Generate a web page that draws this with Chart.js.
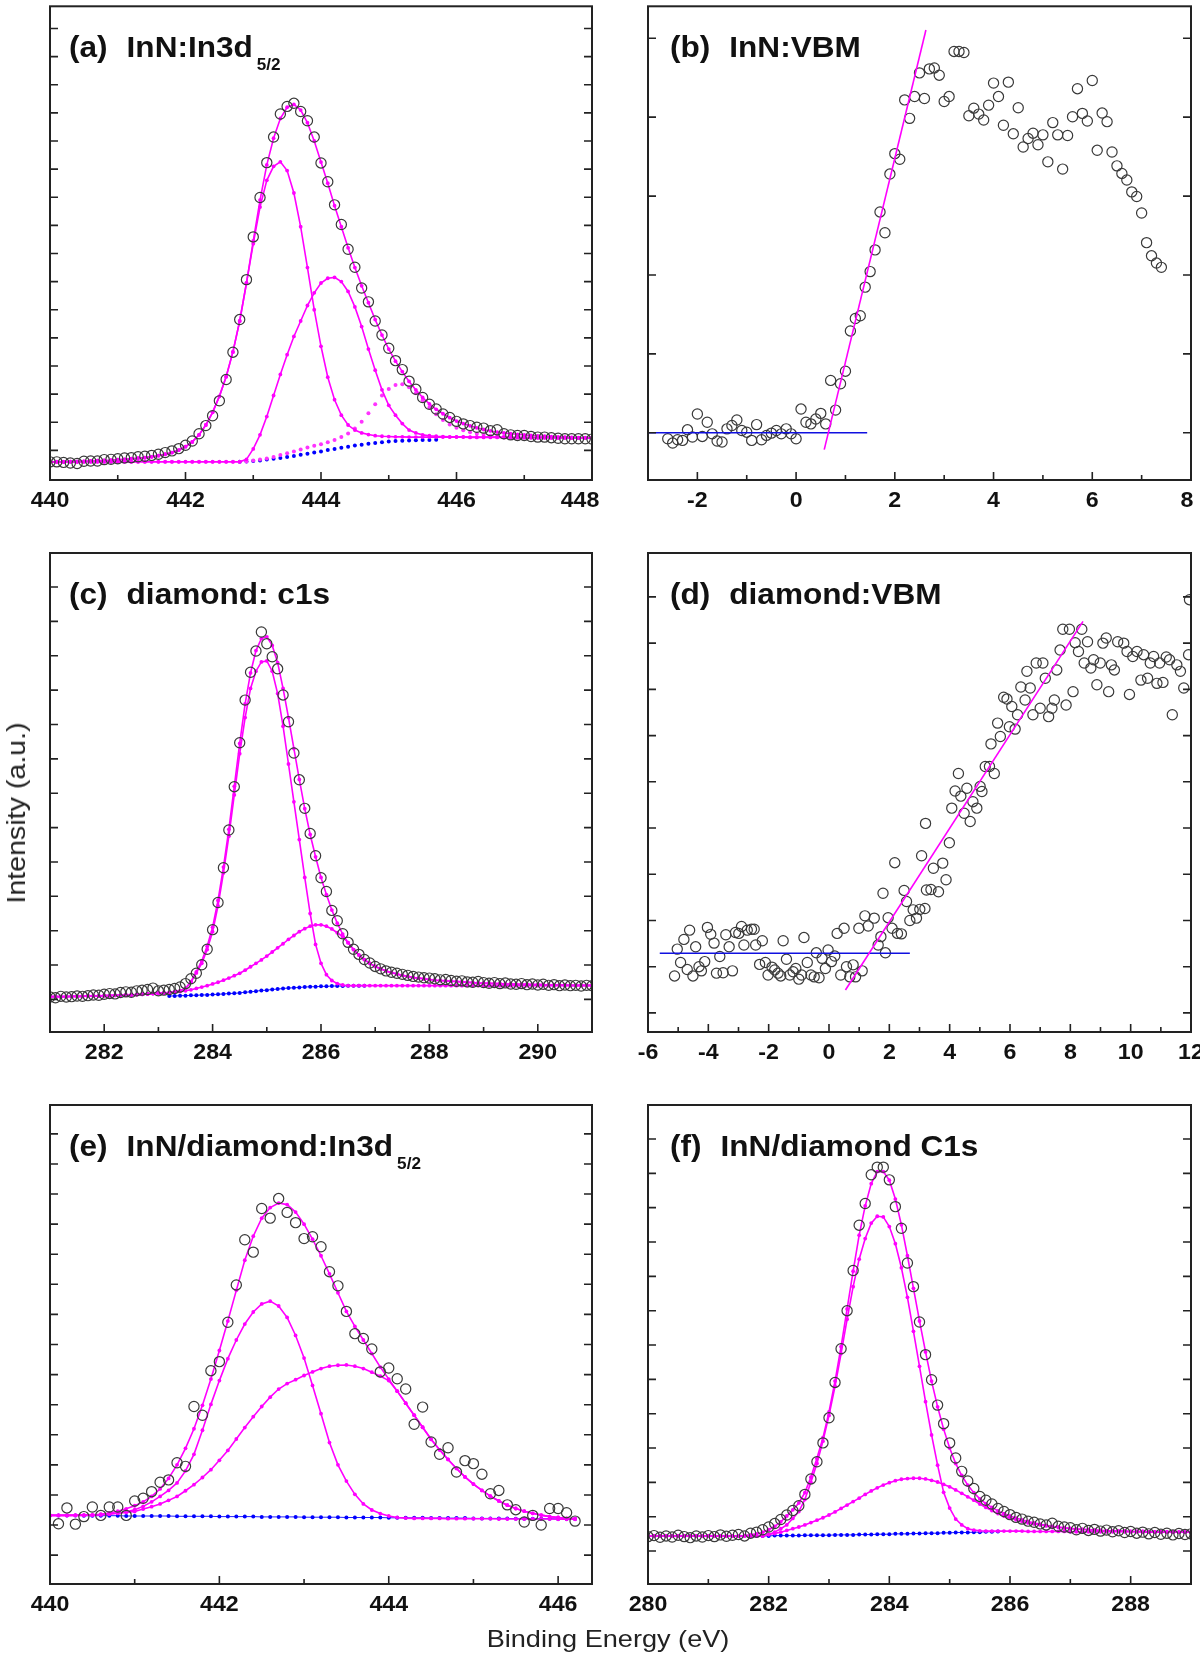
<!DOCTYPE html>
<html>
<head>
<meta charset="utf-8">
<script src="https://cdn.jsdelivr.net/npm/chart.js@4.4.1/dist/chart.umd.min.js"></script>
<style>
  body { margin: 0; background: #fff; }
  #fig { position: relative; width: 1200px; height: 1657px; overflow: hidden; background: #fff;
         font-family: "Liberation Sans", Arial, Helvetica, sans-serif; }
  #fig canvas { position: absolute; }
  .axlabel { position: absolute; line-height: 24px; color: #222; white-space: nowrap; }
  #ylab { left: 16px; top: 813px; font-size: 26px; transform: translate(-50%, -50%) rotate(-90deg) scale(1.1, 1); }
  #xlab { left: 608px; top: 1627px; font-size: 24px; transform: translateX(-50%) scale(1.13, 1); }
</style>
</head>
<body>
<div id="fig">
  <canvas id="pa"></canvas>
  <canvas id="pb"></canvas>
  <canvas id="pc"></canvas>
  <canvas id="pd"></canvas>
  <canvas id="pe"></canvas>
  <canvas id="pf"></canvas>
  <div class="axlabel" id="ylab">Intensity (a.u.)</div>
  <div class="axlabel" id="xlab">Binding Energy (eV)</div>
</div>
<script>
// ---------- (a) InN : In3d5/2 ----------
const energyA = [
  440.0,440.1,440.2,440.3,440.4,440.5,440.6,440.7,440.8,440.9,
  441.0,441.1,441.2,441.3,441.4,441.5,441.6,441.7,441.8,441.9,
  442.0,442.1,442.2,442.3,442.4,442.5,442.6,442.7,442.8,442.9,
  443.0,443.1,443.2,443.3,443.4,443.5,443.6,443.7,443.8,443.9,
  444.0,444.1,444.2,444.3,444.4,444.5,444.6,444.7,444.8,444.9,
  445.0,445.1,445.2,445.3,445.4,445.5,445.6,445.7,445.8,445.9,
  446.0,446.1,446.2,446.3,446.4,446.5,446.6,446.7,446.8,446.9,
  447.0,447.1,447.2,447.3,447.4,447.5,447.6,447.7,447.8,447.9,448.0];
const measA = [
  -0.41,-0.41,-0.43,-0.45,-0.47,-0.39,-0.38,-0.38,-0.33,-0.32,
  -0.30,-0.27,-0.26,-0.23,-0.21,-0.18,-0.14,-0.08,-0.02,0.06,
  0.18,0.33,0.59,0.88,1.23,1.76,2.52,3.49,4.65,6.07,
  7.59,8.99,10.23,11.14,11.96,12.23,12.34,12.05,11.72,11.14,
  10.22,9.55,8.73,8.03,7.15,6.51,5.77,5.28,4.60,4.10,
  3.63,3.19,2.87,2.46,2.17,1.88,1.64,1.47,1.29,1.17,
  1.03,0.94,0.88,0.82,0.79,0.70,0.73,0.59,0.55,0.53,
  0.53,0.49,0.47,0.47,0.45,0.43,0.41,0.41,0.41,0.41,0.40];
const envA = [
  -0.41,-0.41,-0.41,-0.40,-0.40,-0.39,-0.38,-0.37,-0.36,-0.35,
  -0.33,-0.32,-0.30,-0.28,-0.26,-0.23,-0.19,-0.14,-0.08,0.01,
  0.13,0.30,0.55,0.90,1.35,1.92,2.62,3.50,4.60,5.95,
  7.45,8.90,10.15,11.10,11.80,12.20,12.30,12.10,11.65,11.00,
  10.25,9.50,8.70,7.95,7.20,6.50,5.85,5.25,4.65,4.10,
  3.60,3.17,2.80,2.45,2.15,1.88,1.65,1.46,1.30,1.16,
  1.04,0.95,0.87,0.80,0.74,0.69,0.65,0.62,0.59,0.57,
  0.55,0.53,0.51,0.50,0.49,0.48,0.47,0.46,0.45,0.45,0.44];
const peak1A = [
  -0.41,-0.41,-0.41,-0.40,-0.40,-0.39,-0.38,-0.37,-0.36,-0.35,
  -0.33,-0.32,-0.30,-0.28,-0.26,-0.23,-0.19,-0.14,-0.08,0.01,
  0.13,0.30,0.55,0.90,1.35,1.92,2.62,3.50,4.60,5.95,
  7.35,8.65,9.60,10.10,10.26,9.95,9.15,7.95,6.50,5.00,
  3.70,2.60,1.80,1.25,0.90,0.72,0.62,0.56,0.52,0.50,
  0.49,0.48,0.48,0.47,0.47,0.47,0.47,0.47,0.47,0.47,
  0.47,0.47,0.46,0.46,0.46,0.46,0.46,0.46,0.45,0.45,
  0.45,0.45,0.45,0.45,0.45,0.44,0.44,0.44,0.44,0.44,0.44];
const peak2A = [
  -0.41,-0.41,-0.41,-0.41,-0.41,-0.41,-0.41,-0.41,-0.41,-0.41,
  -0.41,-0.41,-0.41,-0.41,-0.41,-0.41,-0.41,-0.41,-0.41,-0.41,
  -0.41,-0.41,-0.41,-0.41,-0.41,-0.41,-0.41,-0.41,-0.41,-0.32,
  0.05,0.55,1.20,1.95,2.70,3.40,4.05,4.60,5.15,5.60,
  5.95,6.12,6.15,6.00,5.65,5.10,4.40,3.60,2.85,2.15,
  1.60,1.25,0.95,0.72,0.62,0.55,0.52,0.50,0.49,0.48,
  0.48,0.48,0.47,0.47,0.47,0.47,0.47,0.46,0.46,0.46,
  0.46,0.46,0.45,0.45,0.45,0.45,0.45,0.44,0.44,0.44,0.44];
const peak3A = [
  -0.41,-0.41,-0.41,-0.41,-0.41,-0.41,-0.41,-0.41,-0.41,-0.41,
  -0.41,-0.41,-0.41,-0.41,-0.41,-0.41,-0.41,-0.41,-0.41,-0.41,
  -0.41,-0.41,-0.41,-0.41,-0.41,-0.41,-0.41,-0.41,-0.41,-0.40,
  -0.36,-0.33,-0.29,-0.24,-0.17,-0.10,-0.04,0.03,0.10,0.16,
  0.22,0.29,0.37,0.47,0.60,0.78,1.02,1.32,1.64,1.95,
  2.18,2.32,2.35,2.24,2.03,1.78,1.52,1.28,1.08,0.92,
  0.80,0.71,0.64,0.59,0.55,0.52,0.50,0.49,0.48,0.47,
  0.47,0.46,0.46,0.46,0.45,0.45,0.45,0.45,0.44,0.44,0.44];
// background, starts at 442.8 eV (index 28)
const bgA = [
  -0.41,-0.40,-0.38,-0.36,-0.33,-0.30,-0.27,-0.24,-0.20,-0.16,
  -0.12,-0.08,-0.04,0.01,0.05,0.09,0.13,0.17,0.20,0.23,
  0.26,0.29,0.31,0.33,0.34,0.35,0.36,0.37,0.37,0.38];

// ---------- (b) InN : VBM ----------
const energyB = [
  -2.6,-2.5,-2.4,-2.3,-2.2,-2.1,-2.0,-1.9,-1.8,-1.7,
  -1.6,-1.5,-1.4,-1.3,-1.2,-1.1,-1.0,-0.9,-0.8,-0.7,
  -0.6,-0.5,-0.4,-0.3,-0.2,-0.1,0.0,0.1,0.2,0.3,
  0.4,0.5,0.6,0.7,0.8,0.9,1.0,1.1,1.2,1.3,
  1.4,1.5,1.6,1.7,1.8,1.9,2.0,2.1,2.2,2.3,
  2.4,2.5,2.6,2.7,2.8,2.9,3.0,3.1,3.2,3.3,
  3.4,3.5,3.6,3.7,3.8,3.9,4.0,4.1,4.2,4.3,
  4.4,4.5,4.6,4.7,4.8,4.9,5.0,5.1,5.2,5.3,
  5.4,5.5,5.6,5.7,5.8,5.9,6.0,6.1,6.2,6.3,
  6.4,6.5,6.6,6.7,6.8,6.9,7.0,7.1,7.2,7.3,7.4];
const measB = [
  -0.075,-0.13,-0.088,-0.096,0.038,-0.054,0.238,-0.046,0.134,-0.013,
  -0.104,-0.117,0.05,0.092,0.163,0.029,0.008,-0.096,0.104,-0.088,
  -0.033,-0.004,0.029,-0.013,0.05,-0.013,-0.075,0.301,0.134,0.113,
  0.175,0.246,0.113,0.664,0.288,0.622,0.781,1.291,1.449,1.483,
  1.846,2.043,2.318,2.799,2.536,3.279,3.538,3.467,4.219,3.985,
  4.261,4.561,4.236,4.612,4.624,4.532,4.198,4.261,4.833,4.833,
  4.820,4.018,4.114,4.039,3.964,4.152,4.432,4.261,3.897,4.444,
  3.789,4.119,3.622,3.730,3.797,3.651,3.776,3.434,3.931,3.776,
  3.342,3.768,4.006,4.361,4.048,3.952,4.465,3.580,4.052,3.943,
  3.559,3.383,3.287,3.204,3.053,2.995,2.786,2.410,2.243,2.151,
  2.097];
const edgeLineBx = [0.57, 2.63];
const edgeLineBy = [-0.213, 5.104];
const baseLineBx = [-3.0, 1.44];
const baseLineBy = [0.0, 0.0];

// ---------- (c) diamond : C1s ----------
const energyC = [
  281.0,281.1,281.2,281.3,281.4,281.5,281.6,281.7,281.8,281.9,
  282.0,282.1,282.2,282.3,282.4,282.5,282.6,282.7,282.8,282.9,
  283.0,283.1,283.2,283.3,283.4,283.5,283.6,283.7,283.8,283.9,
  284.0,284.1,284.2,284.3,284.4,284.5,284.6,284.7,284.8,284.9,
  285.0,285.1,285.2,285.3,285.4,285.5,285.6,285.7,285.8,285.9,
  286.0,286.1,286.2,286.3,286.4,286.5,286.6,286.7,286.8,286.9,
  287.0,287.1,287.2,287.3,287.4,287.5,287.6,287.7,287.8,287.9,
  288.0,288.1,288.2,288.3,288.4,288.5,288.6,288.7,288.8,288.9,
  289.0,289.1,289.2,289.3,289.4,289.5,289.6,289.7,289.8,289.9,
  290.0,290.1,290.2,290.3,290.4,290.5,290.6,290.7,290.8,290.9,291.0];
const measC = [
  0.07,0.05,0.09,0.07,0.08,0.10,0.09,0.11,0.13,0.12,
  0.15,0.17,0.16,0.20,0.22,0.21,0.25,0.27,0.29,0.33,
  0.25,0.27,0.29,0.32,0.36,0.46,0.60,0.76,1.01,1.46,
  2.03,2.82,3.83,4.93,6.19,7.47,8.71,9.52,10.14,10.69,
  10.35,9.97,9.62,8.86,8.08,7.17,6.39,5.56,4.83,4.18,
  3.54,3.14,2.59,2.29,1.91,1.66,1.46,1.31,1.16,1.06,
  0.96,0.89,0.83,0.79,0.76,0.73,0.70,0.67,0.65,0.63,
  0.62,0.60,0.57,0.58,0.55,0.53,0.54,0.51,0.50,0.52,
  0.49,0.47,0.49,0.46,0.48,0.45,0.44,0.46,0.43,0.45,
  0.42,0.44,0.41,0.43,0.40,0.42,0.40,0.41,0.39,0.41,0.40];
const envC = [
  0.08,0.08,0.08,0.08,0.09,0.09,0.09,0.10,0.10,0.10,
  0.11,0.11,0.12,0.12,0.13,0.13,0.14,0.15,0.16,0.17,
  0.18,0.19,0.20,0.22,0.25,0.32,0.52,0.80,1.12,1.55,
  2.10,2.88,3.85,4.95,6.20,7.45,8.60,9.50,10.15,10.50,
  10.55,10.30,9.80,9.05,8.20,7.30,6.40,5.55,4.80,4.15,
  3.55,3.05,2.60,2.22,1.90,1.65,1.45,1.29,1.16,1.05,
  0.96,0.89,0.83,0.78,0.74,0.70,0.67,0.64,0.62,0.60,
  0.58,0.56,0.55,0.54,0.53,0.52,0.51,0.50,0.49,0.48,
  0.47,0.47,0.46,0.46,0.45,0.45,0.44,0.44,0.44,0.43,
  0.43,0.43,0.42,0.42,0.42,0.42,0.41,0.41,0.41,0.41,0.41];
const peak1C = [
  0.08,0.08,0.08,0.08,0.09,0.09,0.09,0.10,0.10,0.10,
  0.11,0.11,0.12,0.12,0.13,0.13,0.14,0.15,0.16,0.17,
  0.18,0.19,0.20,0.22,0.25,0.32,0.50,0.77,1.05,1.45,
  1.97,2.72,3.68,4.75,5.95,7.15,8.20,9.05,9.55,9.82,
  9.85,9.55,8.90,7.95,6.85,5.75,4.65,3.55,2.50,1.60,
  1.05,0.72,0.55,0.46,0.42,0.40,0.40,0.40,0.40,0.40,
  0.40,0.40,0.40,0.40,0.40,0.40,0.40,0.40,0.40,0.40,
  0.40,0.40,0.40,0.40,0.40,0.40,0.40,0.40,0.40,0.40,
  0.40,0.40,0.40,0.40,0.40,0.40,0.40,0.40,0.40,0.40,
  0.40,0.40,0.40,0.40,0.40,0.40,0.40,0.40,0.40,0.40,0.40];
const peak2C = [
  0.08,0.08,0.08,0.08,0.09,0.09,0.09,0.10,0.10,0.10,
  0.11,0.11,0.12,0.12,0.13,0.13,0.14,0.15,0.16,0.17,
  0.18,0.19,0.20,0.22,0.23,0.25,0.28,0.32,0.36,0.40,
  0.45,0.50,0.56,0.62,0.69,0.76,0.85,0.95,1.05,1.15,
  1.26,1.38,1.50,1.62,1.75,1.86,1.97,2.06,2.13,2.17,
  2.17,2.13,2.05,1.94,1.83,1.65,1.45,1.29,1.16,1.05,
  0.96,0.89,0.83,0.78,0.74,0.70,0.67,0.64,0.62,0.60,
  0.58,0.56,0.55,0.54,0.53,0.52,0.51,0.50,0.49,0.48,
  0.47,0.47,0.46,0.46,0.45,0.45,0.44,0.44,0.44,0.43,
  0.43,0.43,0.42,0.42,0.42,0.42,0.41,0.41,0.41,0.41,0.41];
// background, starts at 283.2 eV (index 22)
const bgC = [
  0.10,0.10,0.11,0.11,0.12,0.12,0.13,0.13,0.14,0.15,
  0.16,0.17,0.18,0.19,0.21,0.22,0.24,0.26,0.27,0.29,
  0.30,0.32,0.33,0.34,0.35,0.36,0.37,0.37,0.38,0.38,
  0.39,0.39,0.39,0.40,0.40,0.40,0.40];

// ---------- (d) diamond : VBM ----------
const energyD = [
  -5.12,-5.03,-4.92,-4.81,-4.70,-4.62,-4.51,-4.42,-4.31,-4.23,
  -4.12,-4.03,-3.92,-3.81,-3.73,-3.62,-3.51,-3.42,-3.31,-3.20,
  -3.10,-2.99,-2.90,-2.82,-2.71,-2.57,-2.48,-2.43,-2.30,-2.21,
  -2.11,-2.02,-1.89,-1.80,-1.69,-1.60,-1.52,-1.41,-1.30,-1.19,
  -1.10,-1.00,-0.91,-0.83,-0.72,-0.60,-0.49,-0.42,-0.33,-0.23,
  -0.12,-0.03,0.08,0.19,0.27,0.39,0.50,0.58,0.69,0.80,
  0.88,0.99,1.10,1.19,1.30,1.50,1.63,1.72,1.79,1.87,
  1.96,2.09,2.18,2.27,2.40,2.49,2.57,2.68,2.79,2.90,
  3.01,3.07,3.18,3.20,3.23,3.38,3.46,3.63,3.77,3.88,
  3.99,4.07,4.18,4.29,4.37,4.48,4.57,4.68,4.77,4.90,
  5.01,5.07,5.18,5.32,5.37,5.48,5.59,5.68,5.79,5.90,
  5.98,6.06,6.17,6.25,6.36,6.50,6.56,6.67,6.76,6.87,
  7.00,7.09,7.17,7.28,7.39,7.47,7.55,7.66,7.75,7.86,
  7.97,8.09,8.16,8.27,8.38,8.46,8.57,8.68,8.77,8.88,
  8.99,9.08,9.19,9.27,9.36,9.46,9.57,9.77,9.88,9.96,
  10.07,10.21,10.34,10.43,10.56,10.65,10.76,10.87,10.96,11.07,
  11.18,11.29,11.38,11.53,11.65,11.76,11.92,11.95];
const measD = [
  -0.20,0.38,0.09,0.59,-0.06,0.79,-0.20,0.43,0.00,-0.09,
  0.11,0.85,0.70,0.51,-0.14,0.22,-0.13,0.69,0.43,-0.09,
  0.74,0.72,0.87,0.47,0.79,0.81,0.81,0.47,0.05,0.56,
  0.09,-0.18,-0.01,-0.07,-0.14,-0.20,0.56,0.16,-0.18,-0.11,
  -0.04,-0.27,-0.18,0.63,0.09,-0.18,-0.22,0.30,-0.24,0.18,
  -0.04,0.36,0.11,0.23,0.72,-0.18,0.83,0.00,-0.22,0.04,
  -0.22,0.83,-0.09,1.10,0.88,1.05,0.47,0.65,1.59,0.30,
  1.06,0.83,2.25,0.72,0.71,1.65,1.41,1.00,1.23,1.05,
  1.24,2.40,1.26,3.10,1.66,1.67,2.13,1.62,2.24,1.88,
  2.68,3.43,3.80,4.18,3.69,3.32,3.86,3.14,3.57,3.43,
  3.90,3.79,4.33,4.33,4.82,4.18,5.27,4.98,5.83,5.79,
  5.19,5.63,5.14,5.45,6.05,5.77,6.39,6.03,5.45,6.57,
  5.59,6.57,6.24,5.41,5.59,5.77,6.42,6.85,7.30,5.66,
  7.30,5.95,7.01,6.82,7.30,6.57,7.03,6.46,6.64,6.10,
  6.57,7.00,7.11,5.95,6.53,6.42,7.03,7.00,6.82,5.89,
  6.71,6.82,6.20,6.75,6.24,6.57,6.71,6.13,6.57,6.15,
  6.70,6.64,5.45,6.53,6.39,6.03,6.75,7.94];
const edgeLineDx = [0.545, 8.42];
const edgeLineDy = [-0.505, 7.47];
const baseLineDx = [-5.61, 2.68];
const baseLineDy = [0.29, 0.29];

// ---------- (e) InN/diamond : In3d5/2 ----------
const energyE = [
  440.0,440.1,440.2,440.3,440.4,440.5,440.6,440.7,440.8,440.9,
  441.0,441.1,441.2,441.3,441.4,441.5,441.6,441.7,441.8,441.9,
  442.0,442.1,442.2,442.3,442.4,442.5,442.6,442.7,442.8,442.9,
  443.0,443.1,443.2,443.3,443.4,443.5,443.6,443.7,443.8,443.9,
  444.0,444.1,444.2,444.3,444.4,444.5,444.6,444.7,444.8,444.9,
  445.0,445.1,445.2,445.3,445.4,445.5,445.6,445.7,445.8,445.9,
  446.0,446.1,446.2];
const measE = [
  null,
  0.04,0.57,0.03,0.28,0.60,0.32,0.60,0.60,0.32,0.80,
  0.89,1.11,1.42,1.50,2.07,1.95,3.94,3.65,5.13,5.43,
  6.74,7.98,9.48,9.07,10.52,10.20,10.85,10.39,10.05,9.52,
  9.58,9.25,8.42,7.95,7.10,6.36,6.20,5.85,5.09,5.22,
  4.86,4.52,3.35,3.92,2.76,2.35,2.57,1.76,2.14,2.04,
  1.69,1.04,1.15,0.67,0.51,0.10,0.32,0.00,0.55,0.55,
  0.41,0.13];
const envE = [
  0.32,0.32,0.32,0.33,0.33,0.34,0.36,0.40,0.46,0.54,
  0.64,0.77,0.95,1.20,1.55,2.00,2.55,3.20,3.98,4.85,
  5.80,6.78,7.80,8.80,9.60,10.20,10.55,10.70,10.65,10.40,
  10.00,9.50,8.95,8.35,7.72,7.10,6.60,6.15,5.70,5.25,
  4.85,4.45,4.05,3.65,3.25,2.85,2.50,2.18,1.88,1.60,
  1.36,1.15,0.96,0.80,0.66,0.55,0.46,0.39,0.33,0.28,
  0.25,0.22,0.21];
const peak1E = [
  0.32,0.32,0.32,0.32,0.33,0.33,0.34,0.36,0.39,0.44,
  0.51,0.62,0.77,0.95,1.15,1.40,1.80,2.35,3.15,4.01,
  4.80,5.53,6.15,6.68,7.08,7.35,7.44,7.28,6.90,6.30,
  5.55,4.64,3.70,2.74,2.00,1.46,1.02,0.70,0.50,0.38,
  0.30,0.25,0.23,0.22,0.22,0.22,0.22,0.21,0.21,0.21,
  0.21,0.21,0.21,0.20,0.20,0.20,0.20,0.20,0.20,0.20,
  0.19,0.19,0.19];
const peak2E = [
  0.32,0.32,0.32,0.32,0.32,0.33,0.35,0.37,0.40,0.42,
  0.45,0.53,0.61,0.70,0.82,0.95,1.14,1.34,1.58,1.84,
  2.15,2.48,2.86,3.24,3.60,3.94,4.25,4.52,4.70,4.83,
  4.97,5.09,5.20,5.28,5.31,5.32,5.28,5.20,5.08,4.95,
  4.80,4.45,4.05,3.65,3.25,2.85,2.50,2.18,1.88,1.60,
  1.36,1.15,0.96,0.80,0.66,0.55,0.46,0.39,0.33,0.28,
  0.25,0.22,0.21];
const bgE = [
  0.32,0.32,0.32,0.32,0.31,0.31,0.31,0.31,0.31,0.30,
  0.30,0.30,0.30,0.30,0.30,0.29,0.29,0.29,0.29,0.29,
  0.28,0.28,0.28,0.28,0.28,0.27,0.27,0.27,0.27,0.27,
  0.26,0.26,0.26,0.26,0.26,0.25,0.25,0.25,0.25,0.25,
  0.24,0.24,0.24,0.24,0.24,0.23,0.23,0.23,0.23,0.23,
  0.22,0.22,0.22,0.22,0.22,0.21,0.21,0.21,0.21,0.21,
  0.20,0.20,0.20];

// ---------- (f) InN/diamond : C1s ----------
const energyF = [
  280.0,280.1,280.2,280.3,280.4,280.5,280.6,280.7,280.8,280.9,
  281.0,281.1,281.2,281.3,281.4,281.5,281.6,281.7,281.8,281.9,
  282.0,282.1,282.2,282.3,282.4,282.5,282.6,282.7,282.8,282.9,
  283.0,283.1,283.2,283.3,283.4,283.5,283.6,283.7,283.8,283.9,
  284.0,284.1,284.2,284.3,284.4,284.5,284.6,284.7,284.8,284.9,
  285.0,285.1,285.2,285.3,285.4,285.5,285.6,285.7,285.8,285.9,
  286.0,286.1,286.2,286.3,286.4,286.5,286.6,286.7,286.8,286.9,
  287.0,287.1,287.2,287.3,287.4,287.5,287.6,287.7,287.8,287.9,
  288.0,288.1,288.2,288.3,288.4,288.5,288.6,288.7,288.8,288.9,289.0];
const measF = [
  0.42,0.45,0.40,0.44,0.41,0.46,0.42,0.39,0.44,0.41,
  0.45,0.42,0.47,0.43,0.46,0.48,0.44,0.52,0.55,0.62,
  0.70,0.80,0.92,1.05,1.18,1.32,1.65,2.10,2.60,3.15,
  3.88,4.91,5.89,7.00,8.17,9.49,10.12,10.96,11.18,11.18,
  10.81,10.03,9.40,8.39,7.70,6.67,5.72,4.99,4.25,3.71,
  3.15,2.71,2.32,2.04,1.82,1.59,1.48,1.37,1.24,1.15,
  1.06,0.98,0.93,0.87,0.84,0.79,0.76,0.81,0.72,0.70,
  0.68,0.62,0.66,0.60,0.63,0.58,0.61,0.56,0.59,0.54,
  0.57,0.52,0.55,0.50,0.54,0.49,0.52,0.47,0.51,0.48,0.50];
const envF = [
  0.44,0.44,0.44,0.44,0.44,0.44,0.44,0.44,0.44,0.44,
  0.44,0.44,0.44,0.44,0.44,0.44,0.45,0.47,0.50,0.55,
  0.62,0.72,0.85,1.02,1.20,1.40,1.70,2.15,2.70,3.30,
  4.05,4.95,5.95,7.05,8.15,9.20,10.05,10.70,11.05,11.05,
  10.80,10.25,9.50,8.60,7.65,6.70,5.80,4.95,4.20,3.55,
  3.00,2.55,2.20,1.92,1.70,1.52,1.38,1.27,1.17,1.09,
  1.02,0.96,0.91,0.86,0.82,0.78,0.75,0.72,0.70,0.68,
  0.66,0.64,0.63,0.62,0.61,0.60,0.59,0.59,0.58,0.58,
  0.57,0.57,0.57,0.56,0.56,0.56,0.56,0.55,0.55,0.55,0.55];
const peak1F = [
  0.44,0.44,0.44,0.44,0.44,0.44,0.44,0.44,0.44,0.44,
  0.44,0.44,0.44,0.44,0.44,0.44,0.44,0.44,0.44,0.44,
  0.48,0.55,0.65,0.76,0.95,1.15,1.50,2.00,2.55,3.20,
  3.95,4.80,5.75,6.75,7.70,8.50,9.10,9.55,9.75,9.73,
  9.45,8.95,8.25,7.39,6.40,5.38,4.35,3.38,2.50,1.71,
  1.25,0.93,0.76,0.65,0.61,0.59,0.58,0.58,0.58,0.58,
  0.58,0.58,0.58,0.57,0.57,0.57,0.57,0.57,0.57,0.57,
  0.56,0.56,0.56,0.56,0.56,0.56,0.56,0.56,0.56,0.56,
  0.56,0.56,0.55,0.55,0.55,0.55,0.55,0.55,0.55,0.55,0.55];
const peak2F = [
  0.44,0.44,0.44,0.44,0.44,0.44,0.44,0.44,0.44,0.44,
  0.44,0.44,0.44,0.44,0.44,0.44,0.44,0.44,0.44,0.44,
  0.48,0.51,0.55,0.60,0.65,0.70,0.76,0.83,0.90,0.97,
  1.05,1.14,1.24,1.34,1.44,1.54,1.65,1.75,1.84,1.92,
  1.99,2.05,2.09,2.11,2.12,2.12,2.10,2.06,2.01,1.94,
  1.87,1.78,1.68,1.58,1.48,1.37,1.27,1.18,1.09,1.02,
  0.96,0.91,0.86,0.82,0.79,0.76,0.73,0.71,0.69,0.67,
  0.65,0.64,0.63,0.62,0.61,0.60,0.59,0.59,0.58,0.58,
  0.57,0.57,0.57,0.56,0.56,0.56,0.56,0.55,0.55,0.55,0.55];
// background, starts at 281.8 eV (index 18)
const bgF = [
  0.44,0.44,0.44,0.45,0.45,0.45,0.45,0.45,0.46,0.46,
  0.46,0.46,0.46,0.47,0.47,0.47,0.47,0.48,0.48,0.48,
  0.49,0.49,0.49,0.50,0.50,0.50,0.51,0.51,0.52,0.52,
  0.52,0.53,0.53,0.54,0.54,0.54,0.55,0.55,0.56,0.56,
  0.57];

// ---------- ticks ----------
const ticksA = [440, 442, 444, 446, 448],  minorA = [441, 443, 445, 447];
const ticksB = [-2, 0, 2, 4, 6, 8],         minorB = [-3, -1, 1, 3, 5, 7];
const ticksC = [282, 284, 286, 288, 290],   minorC = [281, 283, 285, 287, 289, 291];
const ticksD = [-6, -4, -2, 0, 2, 4, 6, 8, 10, 12], minorD = [-5, -3, -1, 1, 3, 5, 7, 9, 11];
const ticksE = [440, 442, 444, 446],        minorE = [441, 443, 445];
const ticksF = [280, 282, 284, 286, 288],   minorF = [281, 283, 285, 287, 289];
const yTicksA = [0,1,2,3,4,5,6,7,8,9,10,11,12,13,14,15];
const yTicksB = [0,1,2,3,4,5];
const yTicksC = [0,1,2,3,4,5,6,7,8,9,10,11,12];
const yTicksD = [-1,0,1,2,3,4,5,6,7,8];
const yTicksE = [-1,0,1,2,3,4,5,6,7,8,9,10,11,12,13];
const yTicksF = [0,1,2,3,4,5,6,7,8,9,10,11,12];

// ---------- drawing ----------
const FONT = '"Liberation Sans", Arial, Helvetica, sans-serif';
const PAD_L = 45, PAD_B = 42;

function pair(xs, ys, offset) {
  const off = offset || 0;
  const out = [];
  ys.forEach((y, i) => {
    const x = xs[i + off];
    if (y !== null && y !== undefined && x !== undefined) out.push({x: x, y: y});
  });
  return out;
}

const measured = {showLine: false, pointStyle: 'circle', pointRadius: 5.1, pointBorderWidth: 1.2,
                  pointBorderColor: '#3a3a3a', pointBackgroundColor: 'rgba(255,255,255,0)'};
const fitLine = {showLine: true, borderColor: '#ff00ff', borderWidth: 1.6, pointRadius: 1.9,
                 pointBackgroundColor: '#ff00ff', pointBorderWidth: 0};
const fitDots = {showLine: false, pointRadius: 2.0, pointBackgroundColor: '#ff33ff', pointBorderWidth: 0};
const bgDots = {showLine: true, borderColor: '#2020ff', borderWidth: 1, pointRadius: 2.0,
                pointBackgroundColor: '#0000ff', pointBorderWidth: 0};
const magentaLine = {showLine: true, borderColor: '#ff00ff', borderWidth: 1.6, pointRadius: 0};
const blueLine = {showLine: true, borderColor: '#1010e0', borderWidth: 1.6, pointRadius: 0};

function ds(points, style) { return Object.assign({data: points}, style); }

function drawText(ctx, text, x, y, sx, align) {
  ctx.save();
  ctx.translate(x, y);
  ctx.scale(sx, 1);
  ctx.textAlign = align;
  ctx.fillText(text, 0, 0);
  ctx.restore();
}

function framePlugin(p) {
  return {
    id: 'frame' + p.id,
    afterDraw(chart) {
      const ctx = chart.ctx, a = chart.chartArea;
      const xs = chart.scales.x, ys = chart.scales.y;
      ctx.save();
      ctx.strokeStyle = '#222';
      ctx.lineWidth = 2;
      ctx.strokeRect(a.left, a.top, a.right - a.left, a.bottom - a.top);
      ctx.lineWidth = 1.6;
      ctx.beginPath();
      p.xMajor.forEach(v => {
        const px = xs.getPixelForValue(v);
        ctx.moveTo(px, a.bottom); ctx.lineTo(px, a.bottom - 8);
      });
      p.xMinor.forEach(v => {
        const px = xs.getPixelForValue(v);
        ctx.moveTo(px, a.bottom); ctx.lineTo(px, a.bottom - 5);
      });
      p.yTicks.forEach(v => {
        const py = ys.getPixelForValue(v);
        ctx.moveTo(a.left, py); ctx.lineTo(a.left + 8, py);
        ctx.moveTo(a.right, py); ctx.lineTo(a.right - 8, py);
      });
      ctx.stroke();

      ctx.fillStyle = '#111';
      ctx.textBaseline = 'alphabetic';
      ctx.font = 'bold 22.5px ' + FONT;
      p.xMajor.forEach(v => {
        const nudge = (p.nudge && p.nudge[v]) || 0;
        drawText(ctx, String(v), xs.getPixelForValue(v) + nudge, a.bottom + 27, 1.03, 'center');
      });

      ctx.font = 'bold 29.5px ' + FONT;
      const x0 = a.left + p.titleDx, y0 = a.top + p.titleDy;
      drawText(ctx, p.tag, x0, y0, 1.07, 'left');
      const x1 = x0 + ctx.measureText(p.tag).width * 1.07 + 19;
      drawText(ctx, p.title, x1, y0, 1.07, 'left');
      if (p.sub) {
        const x2 = x1 + ctx.measureText(p.title).width * 1.07 + 4;
        ctx.font = 'bold 16px ' + FONT;
        drawText(ctx, p.sub, x2, y0 + 12.5, 1.07, 'left');
      }
      ctx.restore();
    }
  };
}

const panels = [
  {id: 'a', canvas: 'pa', left: 50, top: 1, w: 542, h: 479, padR: 12, padT: 1,
   xMin: 440, xMax: 448, yMin: -1.055, yMax: 15.79,
   xMajor: ticksA, xMinor: minorA, yTicks: yTicksA, nudge: {448: -12},
   tag: '(a)', title: 'InN:In3d', sub: '5/2', titleDx: 19, titleDy: 51,
   datasets: [
     ds(pair(energyA, measA), measured),
     ds(pair(energyA, envA), fitLine),
     ds(pair(energyA, peak1A), fitLine),
     ds(pair(energyA, peak2A), fitLine),
     ds(pair(energyA, peak3A), fitDots),
     ds(pair(energyA, bgA, 28), Object.assign({}, bgDots, {showLine: false}))
   ]},
  {id: 'b', canvas: 'pb', left: 648, top: 1, w: 543, h: 479, padR: 9, padT: 1,
   xMin: -3.0, xMax: 8.0, yMin: -0.598, yMax: 5.405,
   xMajor: ticksB, xMinor: minorB, yTicks: yTicksB, nudge: {8: -4},
   tag: '(b)', title: 'InN:VBM', titleDx: 22, titleDy: 51,
   datasets: [
     ds(pair(edgeLineBx, edgeLineBy), magentaLine),
     ds(pair(baseLineBx, baseLineBy), blueLine),
     ds(pair(energyB, measB), measured)
   ]},
  {id: 'c', canvas: 'pc', left: 50, top: 553, w: 542, h: 479, padR: 12, padT: 8,
   xMin: 281, xMax: 291, yMin: -0.948, yMax: 12.99,
   xMajor: ticksC, xMinor: minorC, yTicks: yTicksC,
   tag: '(c)', title: 'diamond: c1s', titleDx: 19, titleDy: 51,
   datasets: [
     ds(pair(energyC, measC), measured),
     ds(pair(energyC, envC), fitLine),
     ds(pair(energyC, peak1C), fitLine),
     ds(pair(energyC, peak2C), fitLine),
     ds(pair(energyC, bgC, 22), bgDots)
   ]},
  {id: 'd', canvas: 'pd', left: 648, top: 553, w: 543, h: 479, padR: 9, padT: 8,
   xMin: -6, xMax: 12, yMin: -1.413, yMax: 8.95,
   xMajor: ticksD, xMinor: minorD, yTicks: yTicksD,
   tag: '(d)', title: 'diamond:VBM', titleDx: 22, titleDy: 51,
   datasets: [
     ds(pair(edgeLineDx, edgeLineDy), magentaLine),
     ds(pair(baseLineDx, baseLineDy), blueLine),
     ds(pair(energyD, measD), measured)
   ]},
  {id: 'e', canvas: 'pe', left: 50, top: 1105, w: 542, h: 479, padR: 12, padT: 8,
   xMin: 440, xMax: 446.4, yMin: -1.96, yMax: 13.96,
   xMajor: ticksE, xMinor: minorE, yTicks: yTicksE,
   tag: '(e)', title: 'InN/diamond:In3d', sub: '5/2', titleDx: 19, titleDy: 51,
   datasets: [
     ds(pair(energyE, measE), measured),
     ds(pair(energyE, envE), fitLine),
     ds(pair(energyE, peak1E), fitLine),
     ds(pair(energyE, peak2E), fitLine),
     ds(pair(energyE, bgE), bgDots)
   ]},
  {id: 'f', canvas: 'pf', left: 648, top: 1105, w: 543, h: 479, padR: 9, padT: 8,
   xMin: 280, xMax: 289, yMin: -0.96, yMax: 12.99,
   xMajor: ticksF, xMinor: minorF, yTicks: yTicksF,
   tag: '(f)', title: 'InN/diamond C1s', titleDx: 22, titleDy: 51,
   datasets: [
     ds(pair(energyF, measF), measured),
     ds(pair(energyF, envF), fitLine),
     ds(pair(energyF, peak1F), fitLine),
     ds(pair(energyF, peak2F), fitLine),
     ds(pair(energyF, bgF, 18), bgDots)
   ]}
];

panels.forEach(p => {
  const el = document.getElementById(p.canvas);
  el.width = PAD_L + p.w + p.padR;
  el.height = p.padT + p.h + PAD_B;
  el.style.left = (p.left - PAD_L) + 'px';
  el.style.top = (p.top - p.padT) + 'px';
  new Chart(el, {
    type: 'scatter',
    data: {datasets: p.datasets},
    options: {
      responsive: false,
      animation: false,
      devicePixelRatio: 1,
      events: [],
      layout: {padding: {left: PAD_L, right: p.padR, top: p.padT, bottom: PAD_B}},
      scales: {
        x: {type: 'linear', min: p.xMin, max: p.xMax, display: false},
        y: {type: 'linear', min: p.yMin, max: p.yMax, display: false}
      },
      plugins: {legend: {display: false}, tooltip: {enabled: false}}
    },
    plugins: [framePlugin(p)]
  });
});
</script>
</body>
</html>
